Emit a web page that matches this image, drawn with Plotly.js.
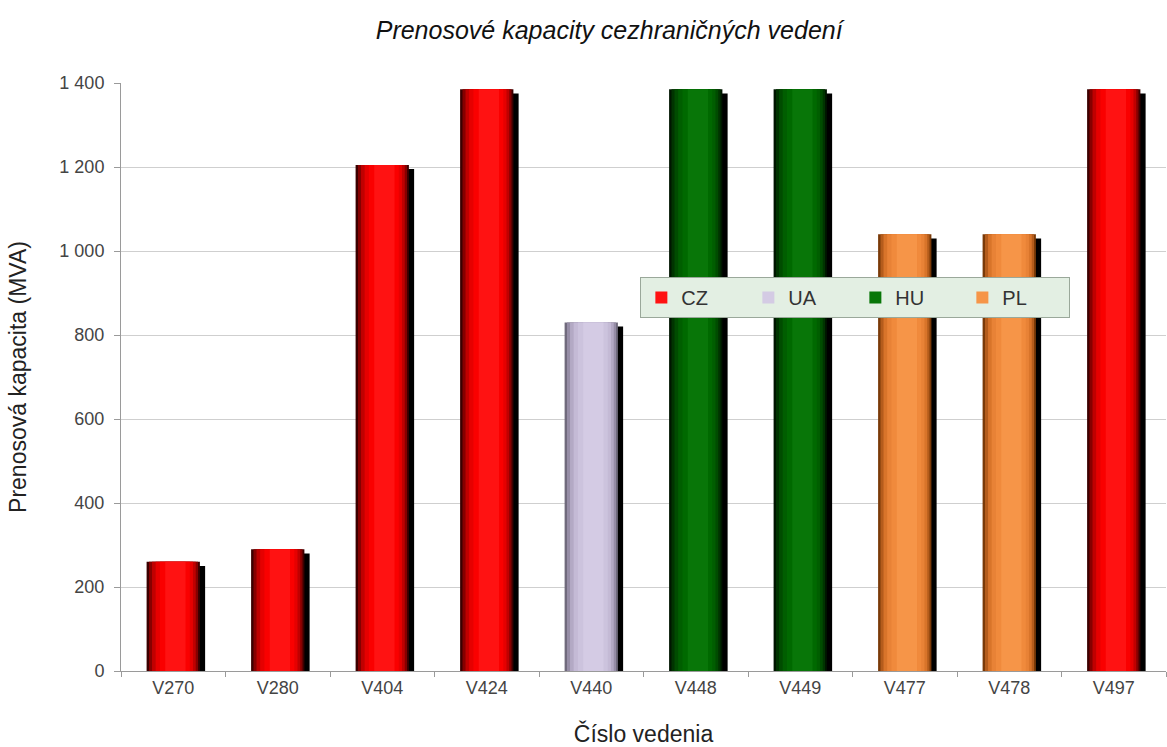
<!DOCTYPE html>
<html>
<head>
<meta charset="utf-8">
<script src="https://cdn.plot.ly/plotly-3.0.1.min.js"></script>
<style>html,body{margin:0;padding:0;background:#fff;}#chart{width:1167px;height:747px;}</style>
</head>
<body>
<div id="chart"></div>
<script>
// ---- data ----
const lines = ["V270","V280","V404","V424","V440","V448","V449","V477","V478","V497"];
const countryOfLine = ["CZ","CZ","CZ","CZ","UA","HU","HU","PL","PL","CZ"];
const capacity = [260, 290, 1205, 1385, 830, 1385, 1385, 1040, 1040, 1385];
const countries = ["CZ","UA","HU","PL"];
const yTicks = [0, 200, 400, 600, 800, 1000, 1200, 1400];

// ---- styles ----
const palette = {
  CZ: ["#3c0000", "#860000", "#c00000", "#e60000", "#fa0000", "#ff1212"],
  UA: ["#706a7c", "#968da6", "#b3a9c4", "#c4bad5", "#ccc3dd", "#d4cbe4"],
  HU: ["#001600", "#003400", "#004c00", "#005e00", "#006900", "#087608"],
  PL: ["#7a3a08", "#b45c1c", "#d8742a", "#e88236", "#f08a3c", "#f69548"]
};
const faceW = 0.51;
const layerFrac = [1.0, 0.92, 0.82, 0.7, 0.56, 0.38];
const layerShift = [0, 0.005, 0.012, 0.02, 0.03, 0.04];
const shadowShift = 0.05;

function pick(c) {
  const xs = [], ys = [];
  lines.forEach((l, i) => { if (countryOfLine[i] === c) { xs.push(l); ys.push(capacity[i]); } });
  return { xs, ys };
}

const traces = [];
// shadows on the base axis (drawn underneath)
countries.forEach(c => {
  const { xs, ys } = pick(c);
  traces.push({
    type: "bar", x: xs, y: ys, yaxis: "y",
    width: faceW, offset: -faceW / 2 + shadowShift,
    marker: { color: "#000000", line: { width: 0 } },
    showlegend: false, hoverinfo: "skip", legendgroup: c
  });
});
// faces on the overlaying axis (drawn on top)
countries.forEach(c => {
  const { xs, ys } = pick(c);
  layerFrac.forEach((f, k) => {
    const w = faceW * f;
    traces.push({
      type: "bar", x: xs, y: ys, name: c, yaxis: "y2",
      width: w, offset: -w / 2 + layerShift[k] * faceW,
      marker: { color: palette[c][k], line: { width: 0 } },
      showlegend: k === layerFrac.length - 1, legendgroup: c
    });
  });
});

const font = "Liberation Sans, Arial, sans-serif";
const layout = {
  width: 1167, height: 747,
  margin: { l: 121, r: 1, t: 83, b: 76 },
  paper_bgcolor: "#ffffff", plot_bgcolor: "#ffffff",
  barmode: "overlay",
  separators: ", ",
  font: { family: font, color: "#333" },
  title: {
    text: "<i>Prenosové kapacity cezhraničných vedení</i>",
    font: { family: font, size: 25, color: "#111" },
    x: 0.522, xanchor: "center", xref: "container",
    y: 0.96, yanchor: "middle", yref: "container"
  },
  xaxis: {
    type: "category", categoryorder: "array", categoryarray: lines,
    range: [-0.5, lines.length - 0.5],
    showline: true, linecolor: "#9a9a9a", linewidth: 1,
    ticks: "outside", tickson: "boundaries", ticklen: 5, tickcolor: "#9a9a9a",
    tickfont: { size: 18, color: "#444" },
    showgrid: false, automargin: false,
    title: { text: "Číslo vedenia", font: { size: 23, color: "#222" }, standoff: 32 }
  },
  yaxis: {
    range: [10, 1410], visible: false, showgrid: false, zeroline: false, fixedrange: true
  },
  yaxis2: {
    overlaying: "y", side: "left",
    range: [0, 1400], tickvals: yTicks,
    tickformat: ",d",
    showline: true, linecolor: "#9a9a9a", linewidth: 1,
    ticks: "outside", ticklen: 6, tickcolor: "#9a9a9a",
    ticklabelstandoff: 6,
    tickfont: { size: 18, color: "#444" },
    showgrid: true, gridcolor: "#cfcfcf", gridwidth: 1,
    zeroline: false, automargin: false,
    title: { text: "Prenosová kapacita (MVA)", font: { size: 23, color: "#222" }, standoff: 26 }
  },
  legend: {
    orientation: "h", x: 0.497, y: 0.67, xanchor: "left", yanchor: "top",
    bgcolor: "#e3efe3", bordercolor: "#9aa89a", borderwidth: 1,
    font: { size: 20, color: "#333" },
    entrywidth: 62, entrywidthmode: "pixels",
    traceorder: "normal"
  },
  showlegend: true
};

Plotly.newPlot("chart", traces, layout, { displayModeBar: false, staticPlot: true });
</script>
</body>
</html>
